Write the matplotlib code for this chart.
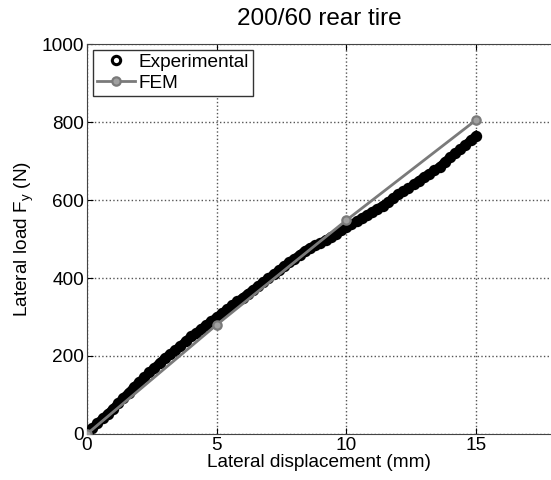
import numpy as np
import matplotlib.pyplot as plt

plt.rcParams['font.family'] = ['Liberation Sans', 'DejaVu Sans']

# experimental lateral load vs displacement (sampled every 0.2 mm)
exp_disp = np.linspace(0, 15, 76)
exp_load = [0, 14, 28, 40, 52, 65, 79, 93, 106, 120,
            133, 145, 158, 170, 183, 195, 205, 215, 226, 238,
            250, 259, 270, 280, 290, 300, 310, 320, 330, 340,
            350, 360, 370, 380, 390, 400, 410, 420, 431, 441,
            450, 460, 470, 478, 485, 490, 498, 505, 514, 522,
            530, 538, 546, 554, 562, 570, 578, 586, 595, 605,
            615, 622, 630, 640, 650, 660, 668, 676, 686, 698,
            710, 720, 730, 742, 754, 765]

fem_disp = [0, 5, 10, 15]
fem_load = [0, 280, 548, 805]

fig = plt.figure(figsize=(5.51, 4.8), dpi=100)
ax = fig.add_axes([0.158, 0.096, 0.842, 0.812])

ax.plot(exp_disp, exp_load, '-o', color='black', markerfacecolor='black',
        markersize=7, markeredgewidth=1.2, linewidth=6,
        label='Experimental', zorder=3)
ax.plot(fem_disp, fem_load, '-o', color='#7a7a7a', linewidth=2,
        markersize=6, markerfacecolor='#a0a0a0', markeredgewidth=1.6,
        label='FEM', zorder=4)

ax.set_xlim(0, 17.9)
ax.set_ylim(0, 1000)
ax.set_xticks([0, 5, 10, 15])
ax.set_yticks([0, 200, 400, 600, 800, 1000])
ax.tick_params(direction='in', labelsize=13.7, length=4, top=True, pad=2)
ax.grid(True, linestyle=':', color='#555555', linewidth=1)
ax.spines['right'].set_visible(False)
for s in ['left', 'bottom', 'top']:
    ax.spines[s].set_color('#444444')

ax.set_xlabel('Lateral displacement (mm)', fontsize=13.7, labelpad=0)
ax.set_ylabel('Lateral load F$_\\mathregular{y}$ (N)', fontsize=13.7, labelpad=4)
ax.set_title('200/60 rear tire', fontsize=17.5, pad=14)

leg = ax.legend(loc='upper left', fontsize=13.7, fancybox=False,
                framealpha=1, edgecolor='#333333', borderaxespad=0.3,
                handlelength=2.0, handletextpad=0.2, borderpad=0.2,
                labelspacing=0.2)
leg.get_frame().set_linewidth(1)
h0 = leg.legend_handles[0]
h0.set_linestyle('none')
h0.set_markerfacecolor('white')
h0.set_markersize(6)
h0.set_markeredgewidth(2.2)

fig.savefig('out.png', dpi=100)
